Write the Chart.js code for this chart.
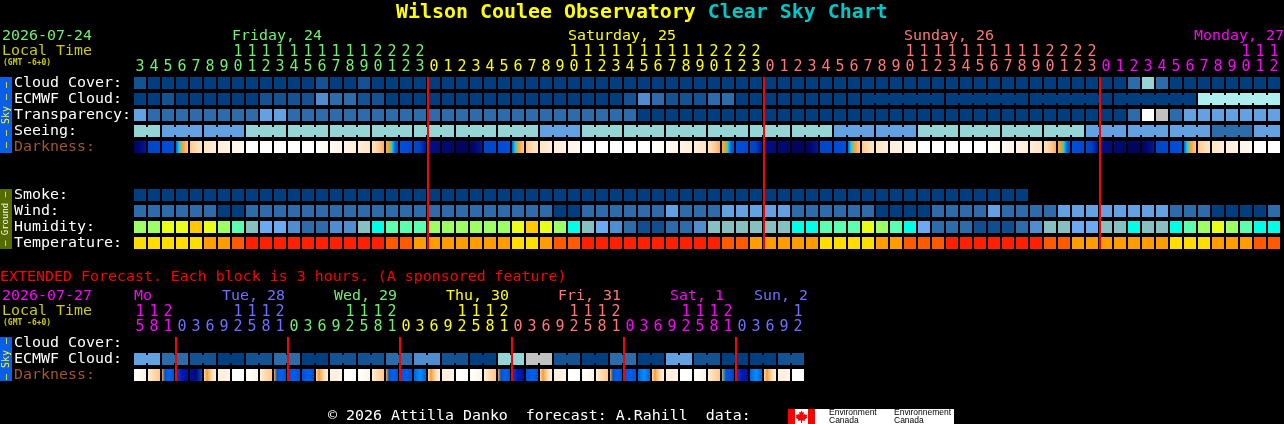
<!DOCTYPE html>
<html>
<head>
<meta charset="utf-8">
<title>Wilson Coulee Observatory Clear Sky Chart</title>
<script src="https://cdn.jsdelivr.net/npm/chart.js@4"></script>
<style>
  html, body { margin: 0; padding: 0; background: #000; overflow: hidden; }
  #page { position: relative; width: 1284px; height: 424px; background: #000; overflow: hidden; }
  canvas { position: absolute; left: 0; }
  #top { top: 0; }
  #ext { top: 262px; }
  .txt { position: absolute; white-space: pre; font-family: "DejaVu Sans Mono", monospace; line-height: 1; }
  #title { left: 396px; top: 2px; font-size: 19.93px; font-weight: bold; color: #ffff00; }
  #title span { color: #00c8c8; }
  #extended { left: 0; top: 269px; font-size: 14.95px; color: #ff0000; }
  #credit { left: 328px; top: 408px; font-size: 14.95px; color: #fff; }
  #logo { position: absolute; left: 788px; top: 409px; width: 166px; height: 15px; background: #fff; overflow: hidden; }
  #logo i { position: absolute; top: 0; width: 7px; height: 15px; background: #f00; }
  #logo svg { position: absolute; left: 7px; top: 0; }
  #logo b { position: absolute; font: 8.5px/7.5px "Liberation Sans", sans-serif; color: #000; white-space: pre; top: 0; }
</style>
</head>
<body>
<div id="page">
  <canvas id="top" width="1284" height="262"></canvas>
  <canvas id="ext" width="1284" height="162"></canvas>
  <div class="txt" id="title">Wilson Coulee Observatory <span>Clear Sky Chart</span></div>
  <div class="txt" id="extended">EXTENDED Forecast. Each block is 3 hours. (A sponsored feature)</div>
  <div class="txt" id="credit">© 2026 Attilla Danko  forecast: A.Rahill  data:</div>
  <div id="logo">
    <i style="left:0"></i><i style="left:20px"></i>
    <svg width="13" height="15" viewBox="0 0 13 15"><path fill="#f00" d="M6.5 1.5 7.6 3.6 9 3 8.5 6 10 4.8 10.6 6 12.3 5.8 11.6 7.8 12.5 8.4 9.8 10.6 10.2 11.8 7 11.4 7 14 6 14 6 11.4 2.8 11.8 3.2 10.6.5 8.4 1.4 7.8.7 5.8 2.4 6 3 4.8 4.5 6 4 3 5.4 3.6z"/></svg>
    <b style="left:41px">Environment
Canada</b>
    <b style="left:106px">Environnement
Canada</b>
  </div>
</div>

<script>
// main forecast, one block per hour
const topHours = [3,4,5,6,7,8,9,10,11,12,13,14,15,16,17,18,19,20,21,22,23,
  0,1,2,3,4,5,6,7,8,9,10,11,12,13,14,15,16,17,18,19,20,21,22,23,
  0,1,2,3,4,5,6,7,8,9,10,11,12,13,14,15,16,17,18,19,20,21,22,23,
  0,1,2,3,4,5,6,7,8,9,10,11,12]

const cloudCover = [1,0,0,0,0,0,0,0,0,0, 0,0,0,1,0,0,1,0,0,0,
  0,0,0,0,0,0,0,0,0,0, 0,0,0,0,0,0,0,0,0,0,
  0,0,0,0,0,0,0,0,0,0, 0,0,0,0,0,0,0,0,0,0,
  0,0,0,0,0,0,0,0,0,0, 0,2,5,2,0,0,0,0,0,0,0,0]
const ecmwfCloud = [0,0,1,0,0,0,0,0,0,1, 1,1,1,3,2,2,1,1,0,0,
  0,0,0,0,0,0,0,0,0,0, 0,0,0,0,0,1,3,2,1,1,
  1,2,2,0,0,0,0,0,0,0, 0,0,0,0,0,0,0,0,0,0,
  0,0,0,0,0,0,0,0,0,0, 0,0,0,0,0,0,8,8,8,8,8,8]
const ecmwfJoined = [[52,57],[58,63],[64,69],[70,75],[76,81]]
const transparency = [4,2,2,2,2,2,2,2,2,4, 4,2,2,2,2,2,2,2,2,2,
  2,2,2,2,2,2,2,2,2,2, 2,2,2,2,2,2,0,0,0,0,
  0,0,0,0,0,0,0,0,0,0, 0,0,0,0,0,0,0,0,0,0,
  0,0,0,0,0,0,0,0,0,0, 0,2,7,6,2,4,4,4,4,4,4,4]
const seeing = [5,5,4,4,4,4,4,4,5,5, 5,5,5,5,5,5,5,5,5,5,
  5,5,5,5,5,5,5,5,5,4, 4,4,5,5,5,5,5,5,5,5,
  5,5,5,5,5,5,5,5,5,5, 4,4,4,4,4,4,5,5,5,5,
  5,5,5,5,5,5,5,5,4,4, 4,4,4,4,4,4,4,2,2,2,4,4]
const seeingJoined = [[0,1],[2,4],[5,7],[8,10],[11,13],[14,16],[17,19],[20,22],[23,25],[26,28],
  [29,31],[32,34],[35,37],[38,40],[41,43],[44,46],[47,49],[50,52],[53,55],[56,58],[59,61],
  [62,64],[65,67],[68,70],[71,73],[74,76],[77,79],[80,81]]
const darkness = ['n3','b4','b5','rise','d7','d8','d9','d10','w','w','w','w','w','d16','d17','d18','d19','d20','set','b22','b23',
  'n0','n1','n2','n3','b4','b5','rise','d7','d8','d9','d10','w','w','w','w','w','d16','d17','d18','d19','d20','set','b22','b23',
  'n0','n1','n2','n3','b4','b5','rise','d7','d8','d9','d10','w','w','w','w','w','d16','d17','d18','d19','d20','set','b22','b23',
  'n0','n1','n2','n3','b4','b5','rise','d7','d8','d9','d10','w','w']
const smoke = [0,0,0,0,0,0,0,0,0,0, 0,0,0,0,0,0,0,0,0,0,
  0,0,0,0,0,0,0,0,0,0, 0,0,0,0,0,0,0,0,0,0,
  0,0,0,0,0,0,0,0,0,0, 0,0,0,0,0,0,0,0,0,0,
  0,0,0,0]
const wind = [2,2,2,2,2,2,0,0,2,2, 2,2,2,2,2,2,2,2,2,2,
  2,2,2,2,2,2,2,2,2,2, 0,0,2,2,2,2,2,2,4,2,
  2,2,4,4,4,4,4,2,2,2, 2,2,2,0,0,0,0,2,2,2,
  2,4,2,2,2,2,4,4,4,4, 4,4,4,4,2,2,2,0,0,0,0,2]
const humidity = [7,7,8,8,9,8,7,6,4,3, 3,2,1,1,2,2,4,5,6,6,
  6,7,7,7,7,7,7,8,9,8, 7,5,4,3,2,1,0,0,1,1,
  2,4,4,4,4,4,4,5,5,6, 6,6,8,7,6,5,3,1,1,1,
  0,0,0,1,2,4,4,3,3,4, 4,5,4,4,5,6,7,8,7,6,5,5]
const temperature = [0,0,0,0,0,1,1,2,3,3, 3,3,3,3,3,3,3,3,2,2,
  1,1,1,1,1,1,1,0,0,1, 2,2,3,3,3,3,3,3,3,3,
  3,3,2,2,1,1,1,1,1,0, 0,0,0,1,1,2,2,2,3,3,
  3,3,3,3,3,2,2,1,1,1, 1,1,1,1,0,0,0,1,1,1,2,2]

// extended forecast, one block per 3 hours
const extHours = [15,18,21, 0,3,6,9,12,15,18,21, 0,3,6,9,12,15,18,21, 0,3,6,9,12,15,18,21,
  0,3,6,9,12,15,18,21, 0,3,6,9,12,15,18,21, 0,3,6,9,12]
const extCloud = [4,4,2,2,1,1,0,0,1,1, 2,2,0,0,1,1,1,1,2,2,
  3,3,1,1,0,0,5,5,6,6, 1,1,0,0,2,2,0,0,4,4,
  1,1,0,0,0,0,1,1]
const extJoined = [[0,1],[2,3],[4,5],[6,7],[8,9],[10,11],[12,13],[14,15],[16,17],[18,19],[20,21],[22,23],
  [24,25],[26,27],[28,29],[30,31],[32,33],[34,35],[36,37],[38,39],[40,41],[42,43],[44,45],[46,47]]
const extDarkness = ['x15','x18','xset','x0','x3','xrise','d9','w','x15','x18','xset','xb','xb','xrise','d9','w','x15','x18','xset','xb','xb2',
  'xrise','d9','w','x15','x18','xset','x0','xb','xrise','d9','w','x15','x18','xset','xb','xb2','xrise','d9','w','x15','x18','xdusk','x0','xb2','xrise','d9','w']

const skyColors = ['#003f7f','#135393','#2d6cab','#4d8dd0','#63a2e2','#95d5d5','#c1c1c1','#ffffff','#aeeeee']
const humidityColors = ['#0f4f8f','#2d6cab','#4d8dd0','#6baaf0','#86c0c0','#00ffe6','#5cffb0','#9dff66','#e8ff1a','#ffc800']
const temperatureColors = ['#ffdd00','#ff9c00','#ff5a00','#ff2000']
const darkShades = {
  n0: ['#00108c','#000c7c'], n1: ['#000a74','#000868'], n2: ['#000660','#000660'],
  n3: ['#000560','#000874','#0018a0'], b4: ['#0046c8','#0048d0'], b5: ['#004ad4','#0050dc'],
  rise: ['#0a5ae0','#00d8e0','#f0a030','#f8b060','#ffc888'], d7: ['#ffc888','#ffdcae','#ffe6c4'],
  d8: ['#ffe6c4','#ffeed8'], d9: ['#ffeed8','#fff4e6'], d10: ['#fff4e6','#fffaf2'],
  w: ['#ffffff','#ffffff'], d16: ['#ffffff','#fffaf2'], d17: ['#fffaf2','#fff4e6'], d18: ['#fff4e6','#ffeed8'],
  d19: ['#ffeed8','#ffe4c2'], d20: ['#ffe4c2','#ffd09a','#f8b060'],
  set: ['#f8a840','#f0a030','#00d8e0','#0a5ae0','#0050dc'], b22: ['#0050dc','#0048d0'], b23: ['#0048d0','#0040c0','#0010a0'],
  x15: ['#ffffff','#fff4e6'], x18: ['#ffeed8','#ffd8a8','#ffc888'], xset: ['#f0a030','#0050dc','#0060e8','#0060e8','#0050dc'],
  x0: ['#0048d0','#0018b0','#0010a0'], x3: ['#0010a0','#000a70','#0048d0'], xrise: ['#ffd8a8','#f0a030','#ffc888','#ffe6c4','#fff0e0'],
  xb: ['#0050dc','#0060e8','#0050dc'], xb2: ['#0060e8','#0090f4','#0060e8'], xdusk: ['#a0b060','#0050dc','#0050dc','#0040c0'],
}

const topRowLabels = ['Cloud Cover:','ECMWF Cloud:','Transparency:','Seeing:','Darkness:','','','Smoke:','Wind:','Humidity:','Temperature:']
const extRowLabels = ['Cloud Cover:','ECMWF Cloud:','Darkness:']
const topDays = ['Friday, 24','Saturday, 25','Sunday, 26','Monday, 27']
const topDayCols = [7,31,55,76]
const extDays = ['Mo','Tue, 28','Wed, 29','Thu, 30','Fri, 31','Sat, 1','Sun, 2']
const extDayCols = [0,6,14,22,30,38,44]

const GREEN = '#70f070', YELLOW = '#ffff00', SALMON = '#ff7878', MAGENTA = '#ff00ff', VIOLET = '#7070ff'
const mono = 'DejaVu Sans Mono'

function spanColors(spans) {
  const out = []
  spans.forEach(([n, c]) => { for (let i = 0; i < n; i++) out.push(c) })
  return out
}

function hourTick(h) {
  return h >= 10 ? [String(h)[0], String(h)[1]] : String(h)
}

function cellData(values, row) {
  return values.map((v) => [row - 0.375, row + 0.375])
}

function rowDataset(values, row, palette, joined) {
  return {
    data: cellData(values, row),
    backgroundColor: values.map((v) => palette[v]),
    joined: joined,
    row: row,
    values: values,
    palette: palette,
  }
}

function darkDataset(keys, row) {
  return {
    data: cellData(keys, row),
    row: row,
    backgroundColor: (ctx) => {
      const stops = darkShades[keys[ctx.dataIndex]]
      if (!stops) return '#000'
      const x = ctx.chart.scales.x.getPixelForValue(ctx.dataIndex)
      if (!Number.isFinite(x)) return stops[0]
      const g = ctx.chart.ctx.createLinearGradient(x - 6, 0, x + 6, 0)
      stops.forEach((c, i) => g.addColorStop(i / (stops.length - 1), c))
      return g
    },
  }
}

// joins, red day lines, side bands and the header texts, all placed from the chart scales
const overlay = {
  id: 'overlay',
  afterDatasetsDraw(chart, args, opts) {
    const { ctx, chartArea, scales: { x, y } } = chart
    const left = (col) => x.getPixelForValue(col) - 6

    chart.data.datasets.forEach((ds) => {
      if (!ds.joined) return
      ds.joined.forEach(([a, b]) => {
        for (let c = a; c < b; c++) {
          ctx.fillStyle = ds.palette[ds.values[c]]
          ctx.fillRect(left(c) + 12, y.getPixelForValue(ds.row) - 4, 2, 8)
        }
      })
    })

    ctx.fillStyle = '#ff0000'
    opts.midnights.forEach((c) => {
      const top = y.getPixelForValue(-0.375)
      ctx.fillRect(left(c) - 1, top, 2, y.getPixelForValue(opts.lastRow + 0.375) - top)
    })

    opts.bands.forEach((b) => {
      const top = y.getPixelForValue(b.from - 0.375)
      const bottom = y.getPixelForValue(b.to + 0.375)
      ctx.fillStyle = b.fill
      ctx.fillRect(0, top, 12, bottom - top)
      ctx.save()
      ctx.translate(6, (top + bottom) / 2)
      ctx.rotate(-Math.PI / 2)
      ctx.font = `${b.size}px "${mono}"`
      ctx.fillStyle = b.color
      ctx.textAlign = 'center'
      ctx.textBaseline = 'middle'
      ctx.fillText(b.text, 0, 0)
      ctx.restore()
    })

    ctx.textBaseline = 'middle'
    ctx.textAlign = 'left'
    ctx.font = `14.95px "${mono}"`
    ctx.fillStyle = opts.dateColor
    ctx.fillText(opts.date, 2, chartArea.top - 39)
    ctx.fillStyle = '#cccc00'
    ctx.fillText('Local Time', 2, chartArea.top - 24)
    opts.days.forEach((d, i) => {
      const col = opts.dayCols[i]
      ctx.fillStyle = opts.colors[Math.min(col, opts.colors.length - 1)]
      const px = left(col) + (col > 0 ? opts.dayNudge : 0)
      ctx.fillText(d, Math.min(px, chart.width - d.length * 9), chartArea.top - 39)
    })
    ctx.font = `bold 8px "${mono}"`
    ctx.fillStyle = '#cccc00'
    ctx.fillText('(GMT -6+0)', 3, chartArea.top - 12)
  },
}

function buildChart(id, hours, colors, rowLabels, datasets, rightPad, bottomPad, headTop, overlayOpts) {
  return new Chart(document.getElementById(id), {
    type: 'bar',
    data: { labels: hours.map(hourTick), datasets },
    options: {
      responsive: false,
      devicePixelRatio: 1,
      animation: false,
      events: [],
      layout: { padding: { left: 14, right: rightPad, top: 0, bottom: bottomPad } },
      datasets: { bar: { barThickness: 12, grouped: false, inflateAmount: 0, borderWidth: 0, borderSkipped: false } },
      plugins: { legend: { display: false }, tooltip: { enabled: false }, title: { display: false }, overlay: overlayOpts },
      scales: {
        x: {
          type: 'category',
          position: 'top',
          grid: { display: false, drawTicks: false },
          border: { display: false },
          afterFit: (s) => { s.height = headTop },
          ticks: {
            autoSkip: false, maxRotation: 0, minRotation: 0, padding: 0,
            font: { family: mono, size: 15, lineHeight: 1 },
            color: (ctx) => colors[ctx.index],
          },
        },
        y: {
          type: 'linear',
          reverse: true,
          min: -0.5,
          max: rowLabels.length - 0.5,
          grid: { display: false, drawTicks: false },
          border: { display: false },
          afterFit: (s) => { s.width = 119 },
          afterBuildTicks: (s) => { s.ticks = rowLabels.map((t, i) => ({ value: i })) },
          afterTickToLabelConversion: (s) => { s.ticks.forEach((t, i) => { t.label = rowLabels[i] }) },
          ticks: {
            crossAlign: 'far',
            autoSkip: false,
            padding: 0,
            font: { family: mono, size: 14.95 },
            color: (ctx) => (rowLabels[ctx.index] === 'Darkness:' ? '#a0562c' : '#ffffff'),
          },
        },
      },
    },
    plugins: [overlay],
  })
}

const topColors = spanColors([[21, GREEN], [24, YELLOW], [24, SALMON], [13, MAGENTA]])
const extColors = spanColors([[3, MAGENTA], [8, VIOLET], [8, GREEN], [8, YELLOW], [8, SALMON], [8, MAGENTA], [5, VIOLET]])

buildChart('top', topHours, topColors, topRowLabels, [
  rowDataset(cloudCover, 0, skyColors),
  rowDataset(ecmwfCloud, 1, skyColors, ecmwfJoined),
  rowDataset(transparency, 2, skyColors),
  rowDataset(seeing, 3, skyColors, seeingJoined),
  darkDataset(darkness, 4),
  rowDataset(smoke, 7, skyColors),
  rowDataset(wind, 8, skyColors),
  rowDataset(humidity, 9, humidityColors),
  rowDataset(temperature, 10, temperatureColors),
], 3, 11, 75, {
  date: '2026-07-24', dateColor: GREEN, days: topDays, dayCols: topDayCols, colors: topColors, dayNudge: 0,
  midnights: [21, 45, 69], lastRow: 10,
  bands: [
    { from: 0, to: 4, fill: '#0a5fea', color: '#ffff00', size: 10, text: '– – Sky – –' },
    { from: 7, to: 10, fill: '#556b00', color: '#ffffff', size: 9, text: '– Ground –' },
  ],
})

buildChart('ext', extHours, extColors, extRowLabels, [
  rowDataset(extCloud, 1, skyColors, extJoined),
  darkDataset(extDarkness, 2),
], 479, 41, 73, {
  date: '2026-07-27', dateColor: MAGENTA, days: extDays, dayCols: extDayCols, colors: extColors, dayNudge: 4,
  midnights: [3, 11, 19, 27, 35, 43], lastRow: 2,
  bands: [{ from: 0, to: 2, fill: '#0a5fea', color: '#ffff00', size: 10, text: '– Sky –' }],
})
</script>
</body>
</html>
